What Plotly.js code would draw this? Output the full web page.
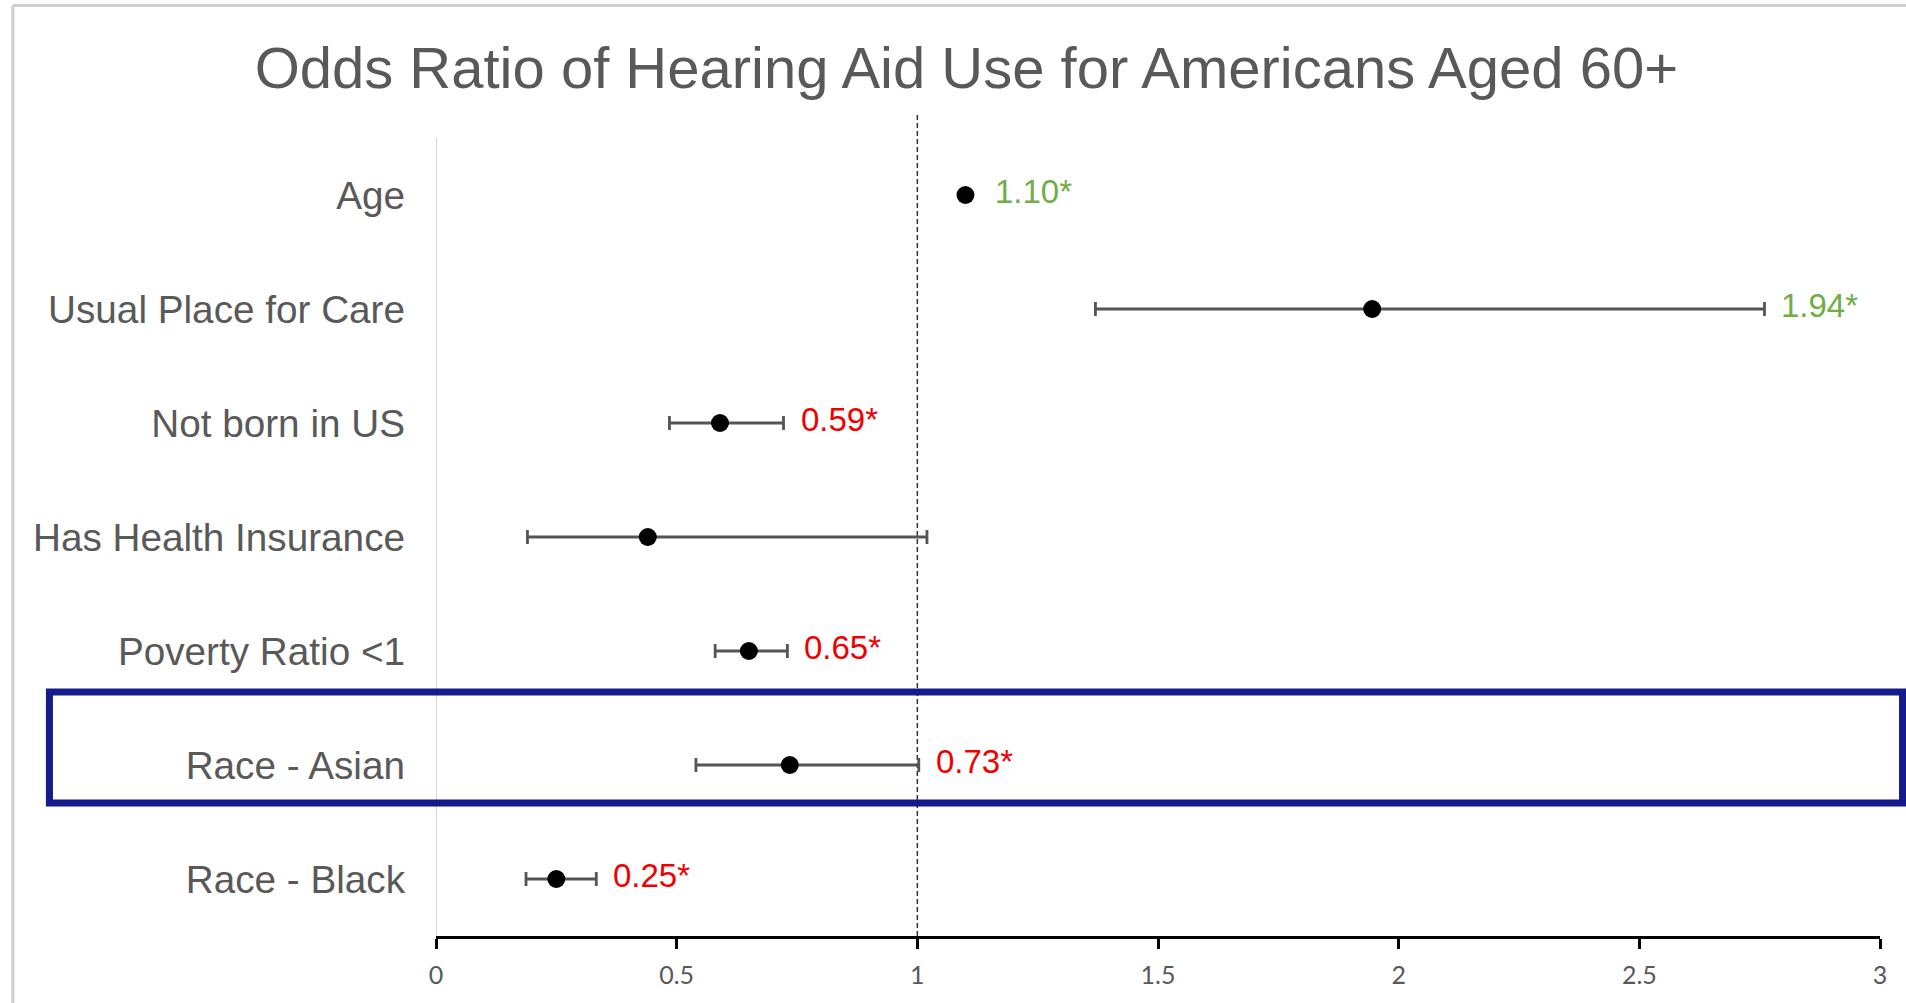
<!DOCTYPE html>
<html>
<head>
<meta charset="utf-8">
<script src="https://cdn.plot.ly/plotly-3.0.1.min.js"></script>
<style>html,body{margin:0;padding:0;background:#fff;}#chart{width:1906px;height:1003px;}</style>
</head>
<body>
<div id="chart"></div>
<script>
// ---- data ----
const categories = ["Age", "Usual Place for Care", "Not born in US", "Has Health Insurance", "Poverty Ratio <1", "Race - Asian", "Race - Black"];
const oddsRatio  = [1.10, 1.945, 0.59, 0.44, 0.65, 0.735, 0.25];
const ciLow      = [1.10, 1.37, 0.485, 0.19, 0.58, 0.54, 0.187];
const ciHigh     = [1.10, 2.76, 0.722, 1.02, 0.73, 1.003, 0.333];
const valueLabels = ["1.10*", "1.94*", "0.59*", "", "0.65*", "0.73*", "0.25*"];
const xTicks = [0, 0.5, 1, 1.5, 2, 2.5, 3];
const xTickLabels = ["0", "0.5", "1", "1.5", "2", "2.5", "3"];
const referenceLine = 1;

const GREEN = "#70ad47", RED = "#f00000", GRAY = "#595959";

const trace = {
  type: "scatter",
  mode: "markers",
  x: oddsRatio,
  y: categories,
  marker: {color: "#000000", size: 18},
  error_x: {
    type: "data",
    symmetric: false,
    array: oddsRatio.map((v, i) => ciHigh[i] - v),
    arrayminus: oddsRatio.map((v, i) => v - ciLow[i]),
    color: "#555555",
    thickness: 2.8,
    width: 7
  },
  hoverinfo: "skip",
  showlegend: false
};

const annotations = categories.map((c, i) => {
  if (!valueLabels[i]) return null;
  const hasCI = ciHigh[i] > oddsRatio[i];
  return {
    x: hasCI ? ciHigh[i] : oddsRatio[i],
    y: c,
    xref: "x", yref: "y",
    text: valueLabels[i],
    showarrow: false,
    xanchor: "left",
    yanchor: "middle",
    xshift: hasCI ? 15 : 28,
    yshift: 4,
    font: {family: "Liberation Sans, Arial, sans-serif", size: 33, color: oddsRatio[i] > 1 ? GREEN : RED}
  };
}).filter(a => a);

const layout = {
  width: 1906,
  height: 1003,
  margin: {l: 436, r: 26, t: 138, b: 67},
  paper_bgcolor: "#ffffff",
  plot_bgcolor: "#ffffff",
  title: {
    text: "Odds Ratio of Hearing Aid Use for Americans Aged 60+",
    font: {family: "Liberation Sans, Arial, sans-serif", size: 58, color: GRAY},
    xref: "container", x: 0.507, xanchor: "center",
    yref: "container", y: 0.933, yanchor: "middle"
  },
  xaxis: {
    range: [0, 3],
    tickvals: xTicks,
    ticktext: xTickLabels,
    showgrid: false,
    zeroline: false,
    showline: true,
    linecolor: "#000000",
    linewidth: 3,
    ticks: "outside",
    ticklen: 10,
    tickwidth: 3,
    tickcolor: "#000000",
    ticklabelstandoff: 5,
    tickfont: {family: "Lato, Open Sans, sans-serif", size: 25, color: GRAY},
    fixedrange: true
  },
  yaxis: {
    type: "category",
    categoryarray: categories,
    range: [6.5, -0.5],
    showgrid: false,
    zeroline: false,
    showline: false,
    ticks: "",
    ticklabelstandoff: 30,
    tickfont: {family: "Liberation Sans, Arial, sans-serif", size: 38.7, color: GRAY},
    fixedrange: true
  },
  annotations: annotations,
  shapes: [
    // light gray y-axis line at x = 0
    {type: "line", xref: "x", yref: "paper", x0: 0, x1: 0, y0: 0, y1: 1,
     line: {color: "#d6d6d6", width: 2}, layer: "below"},
    // dashed reference line at OR = 1
    {type: "line", xref: "x", yref: "paper", x0: referenceLine, x1: referenceLine, y0: 0, y1: 1.031,
     line: {color: "#333333", width: 1.5, dash: "5px,3px"}, layer: "below"},
    // outer frame (top and left)
    {type: "line", xref: "paper", yref: "paper", x0: -0.293, x1: 1.03, y0: 1.166, y1: 1.166,
     line: {color: "#cfcfcf", width: 3}},
    {type: "line", xref: "paper", yref: "paper", x0: -0.293, x1: -0.293, y0: 1.166, y1: -0.1,
     line: {color: "#cfcfcf", width: 3}},
    // highlight box around Race - Asian
    {type: "rect", xref: "paper", yref: "paper", x0: -0.2677, x1: 1.0156, y0: 0.1667, y1: 0.3058,
     line: {color: "#161b8b", width: 7}, fillcolor: "rgba(0,0,0,0)"}
  ]
};

Plotly.newPlot("chart", [trace], layout, {displayModeBar: false, staticPlot: true});
</script>
</body>
</html>
